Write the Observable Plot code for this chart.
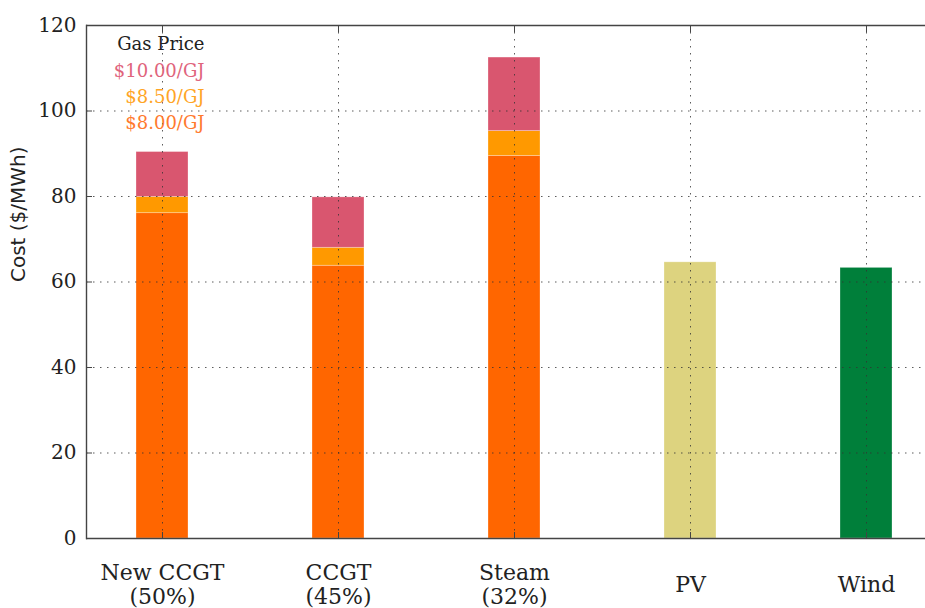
<!DOCTYPE html>
<html><head><meta charset="utf-8">
<script src="https://cdn.jsdelivr.net/npm/d3@7"></script>
<script src="https://cdn.jsdelivr.net/npm/@observablehq/plot@0.6"></script>
<style>
html,body{margin:0;padding:0;background:#fff;}
</style>
</head><body><div id="chart"></div>
<script>
// ---- data ----
const categories = ["New CCGT", "CCGT", "Steam", "PV", "Wind"];
const categoryLabels = ["New CCGT\n(50%)", "CCGT\n(45%)", "Steam\n(32%)", "PV", "Wind"];
const gasCategories = ["New CCGT", "CCGT", "Steam"];
const gasPriceLabels = ["$8.00/GJ", "$8.50/GJ", "$10.00/GJ"];
const cost800 = [76.1, 63.8, 89.5];
const cost850 = [79.9, 68.0, 95.3];
const cost1000 = [90.4, 79.8, 112.5];
const renewableCategories = ["PV", "Wind"];
const renewableCost = [64.6, 63.3];
const yTicks = [0, 20, 40, 60, 80, 100, 120];
const legendTitle = "Gas Price";
const yLabel = "Cost ($/MWh)";

// ---- styles ----
const gasColors = ["#ff6600", "#ff9900", "#d9566f"];
const legendColors = ["#ff7a2e", "#ffa526", "#e0647c"];
const renewableColors = ["#ddd37f", "#007f3a"];

// ---- build table ----
const segments = [];
gasCategories.forEach((c, i) => {
  const tops = [cost800[i], cost850[i], cost1000[i]];
  tops.forEach((t, j) => {
    segments.push({cat: c, key: gasPriceLabels[j], y1: j === 0 ? 0 : tops[j - 1], y2: t});
  });
});
renewableCategories.forEach((c, i) => {
  segments.push({cat: c, key: c, y1: 0, y2: renewableCost[i]});
});

const serif = "'DejaVu Serif', serif";
const sans = "'DejaVu Sans', sans-serif";
const dotted = {stroke: "#333", strokeOpacity: 0.8, strokeWidth: 1, strokeDasharray: "1.5,5.5"};

// legend: title then prices from top ($10 first)
const legendItems = [
  {text: legendTitle, color: "#222", dy: 19},
  {text: gasPriceLabels[2], color: legendColors[2], dy: 46},
  {text: gasPriceLabels[1], color: legendColors[1], dy: 72},
  {text: gasPriceLabels[0], color: legendColors[0], dy: 98}
];

const chart = Plot.plot({
  width: 925,
  height: 608,
  marginLeft: 86,
  marginTop: 25,
  marginBottom: 70,
  marginRight: 0,
  style: {fontFamily: serif, background: "#fff", color: "#222"},
  x: {type: "band", domain: categories, paddingInner: 0.705, paddingOuter: 0.236, align: 0.6},
  y: {domain: [0, 120]},
  color: {domain: [...gasPriceLabels, ...renewableCategories], range: [...gasColors, ...renewableColors]},
  marks: [
    Plot.barY(segments, {x: "cat", y1: "y1", y2: "y2", fill: "key", stroke: "#fff", strokeOpacity: 0.35, strokeWidth: 0.8}),
    Plot.gridY(yTicks.slice(1, -1), dotted),
    Plot.gridX(categories, dotted),
    Plot.ruleY([0, 120], {stroke: "#444", strokeWidth: 1.4}),
    Plot.frame({anchor: "left", stroke: "#444", strokeWidth: 1.4}),
    Plot.axisY(yTicks, {anchor: "left", tickSize: -6, tickPadding: 16, fontSize: 20, label: null, stroke: "#444"}),
    Plot.axisX(categories, {anchor: "bottom", tickSize: -6, tickFormat: () => "", label: null, stroke: "#444"}),
    Plot.axisX(categories, {anchor: "top", tickSize: -6, tickFormat: () => "", label: null, stroke: "#444"}),
    Plot.text(categories, {x: d => d, text: (d, i) => categoryLabels[i], frameAnchor: "bottom", dy: 46, lineAnchor: "middle", lineHeight: 1.06, fontSize: 22, fill: "#222"}),
    Plot.text([yLabel], {frameAnchor: "left", rotate: -90, dx: -68, fontSize: 20, fontFamily: sans, fill: "#222"}),
    ...legendItems.map(d => Plot.text([d.text], {frameAnchor: "top-left", dx: 118, dy: d.dy, textAnchor: "end", lineAnchor: "middle", fontSize: 18, fill: d.color}))
  ]
});
document.getElementById("chart").appendChild(chart);
</script>
</body></html>
